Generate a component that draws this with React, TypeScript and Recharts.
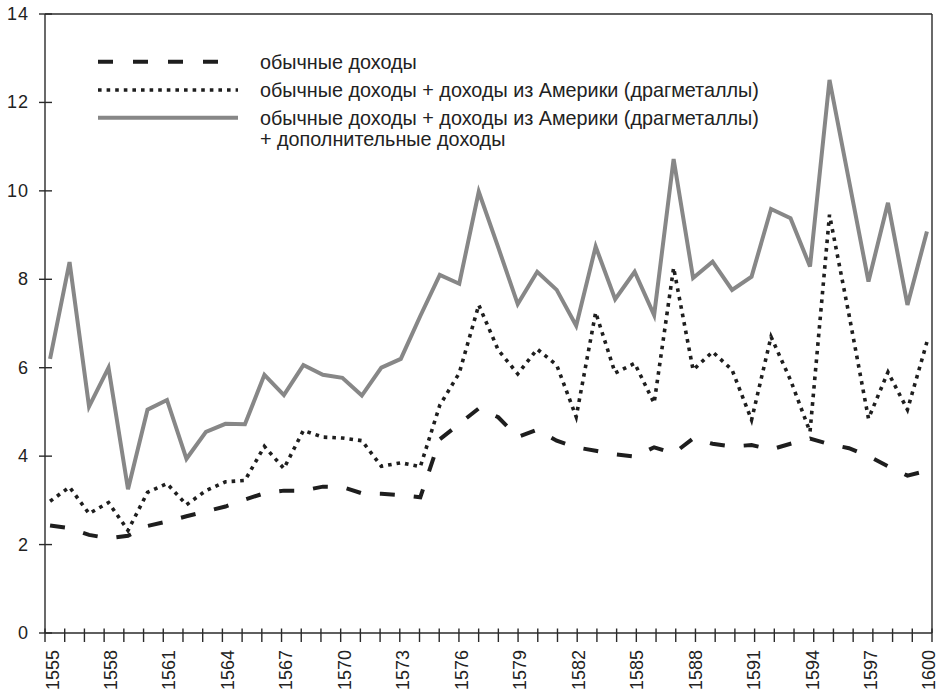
import React from 'react';
import { LineChart, Line, XAxis, YAxis, ReferenceLine, Legend } from 'recharts';

const YEARS = [
  1555, 1556, 1557, 1558, 1559, 1560, 1561, 1562, 1563, 1564,
  1565, 1566, 1567, 1568, 1569, 1570, 1571, 1572, 1573, 1574,
  1575, 1576, 1577, 1578, 1579, 1580, 1581, 1582, 1583, 1584,
  1585, 1586, 1587, 1588, 1589, 1590, 1591, 1592, 1593, 1594,
  1595, 1596, 1597, 1598, 1599, 1600,
];

// обычные доходы
const ORDINARY = [
  2.43, 2.37, 2.22, 2.14, 2.2, 2.42, 2.52, 2.64, 2.75, 2.86,
  3.02, 3.16, 3.22, 3.22, 3.31, 3.3, 3.16, 3.15, 3.12, 3.07,
  4.38, 4.73, 5.08, 4.88, 4.43, 4.6, 4.35, 4.2, 4.12, 4.04,
  3.99, 4.2, 4.06, 4.4, 4.28, 4.22, 4.25, 4.15, 4.28, 4.4,
  4.27, 4.18, 4.0, 3.77, 3.56, 3.67,
];

// обычные доходы + доходы из Америки (драгметаллы)
const WITH_AMERICA = [
  2.98, 3.3, 2.7, 2.95, 2.32, 3.18, 3.38, 2.9, 3.22, 3.42,
  3.45, 4.22, 3.72, 4.58, 4.43, 4.41, 4.35, 3.77, 3.85, 3.76,
  5.15, 5.88, 7.42, 6.4, 5.86, 6.42, 6.06, 4.89, 7.25, 5.88,
  6.1, 5.2, 8.26, 5.95, 6.36, 5.95, 4.82, 6.7, 5.72, 4.55,
  9.46, 7.2, 4.85, 5.9, 5.05, 6.58,
];

// + дополнительные доходы
const WITH_EXTRA = [
  6.2, 8.39, 5.12, 6.0, 3.25, 5.05, 5.27, 3.94, 4.55, 4.73,
  4.72, 5.84, 5.38, 6.06, 5.84, 5.77, 5.37, 6.0, 6.2, 7.17,
  8.1, 7.9, 9.98, 8.72, 7.44, 8.17, 7.76, 6.95, 8.74, 7.55,
  8.17, 7.19, 10.72, 8.03, 8.4, 7.76, 8.06, 9.59, 9.38, 8.29,
  12.51, 10.23, 7.95, 9.73, 7.42, 9.08,
];

const LABEL_YEARS = [1555, 1558, 1561, 1564, 1567, 1570, 1573, 1576, 1579, 1582, 1585, 1588, 1591, 1594, 1597, 1600];
const Y_TICKS = [0, 2, 4, 6, 8, 10, 12, 14];

const LEGEND_1 = 'обычные доходы';
const LEGEND_2 = 'обычные доходы + доходы из Америки (драгметаллы)';
const LEGEND_3A = 'обычные доходы + доходы из Америки (драгметаллы)';
const LEGEND_3B = '+ дополнительные доходы';

const X_MIN = 1554.74;
const X_MAX = 1600.26;
const MARKS = Array.from({ length: 46 }, (_, k) => X_MIN + (k * (X_MAX - X_MIN)) / 45);

const data = YEARS.map((year, i) => ({
  year,
  ordinary: ORDINARY[i],
  america: WITH_AMERICA[i],
  extra: WITH_EXTRA[i],
}));

const FONT = '"Liberation Sans", Arial, Helvetica, sans-serif';
const INK = '#1e1e1e';
const AXIS = '#2a2a2a';
const GRAY = '#878787';

const YTick = (props: any) => {
  const { x, y, payload } = props;
  return (
    <g>
      <line x1={x - 6} x2={x + 7} y1={y} y2={y} stroke={AXIS} strokeWidth={1.4} />
      <text x={x - 16} y={y} textAnchor="end" dominantBaseline="central" fontSize={18} fontFamily={FONT} fill="#222" letterSpacing={1}>
        {payload.value}
      </text>
    </g>
  );
};

const MarkTick = (props: any) => {
  const { x, y } = props;
  return <line x1={x} x2={x} y1={y - 4.5} y2={y + 9} stroke={AXIS} strokeWidth={1.4} />;
};

const LabelTick = (props: any) => {
  const { x, y, payload } = props;
  return (
    <text
      transform={`translate(${x + 2.5},${y + 16}) rotate(-90)`}
      textAnchor="end"
      dominantBaseline="central"
      fontSize={18}
      fontFamily={FONT}
      fill="#222"
    >
      {payload.value}
    </text>
  );
};

const LegendContent = () => (
  <svg width={700} height={110} style={{ display: 'block', overflow: 'visible' }}>
    <line x1={2} x2={142} y1={16.7} y2={16.7} stroke={INK} strokeWidth={4} strokeDasharray="15 20" />
    <line x1={2} x2={142} y1={45} y2={45} stroke={INK} strokeWidth={3.6} strokeDasharray="3.6 5" />
    <line x1={2} x2={142} y1={72.7} y2={72.7} stroke={GRAY} strokeWidth={4} />
    <g fontSize={19.8} fontFamily={FONT} fill="#222">
      <text x={164} y={16.7} dominantBaseline="central">{LEGEND_1}</text>
      <text x={164} y={45} dominantBaseline="central">{LEGEND_2}</text>
      <text x={164} y={72.7} dominantBaseline="central">{LEGEND_3A}</text>
      <text x={164} y={94} dominantBaseline="central">{LEGEND_3B}</text>
    </g>
  </svg>
);

export default function App() {
  return (
    <div style={{ position: 'absolute', left: 0, top: 0, background: '#fff' }}>
      <LineChart width={941} height={696} data={data} margin={{ top: 14, right: 9, bottom: 0, left: 0 }}>
        <XAxis
          xAxisId="b_labels"
          type="number"
          dataKey="year"
          domain={[X_MIN, X_MAX]}
          ticks={LABEL_YEARS}
          interval={0}
          height={62}
          tickSize={0}
          tickMargin={0}
          tick={<LabelTick />}
          axisLine={false}
          tickLine={false}
        />
        <XAxis
          xAxisId="a_marks"
          type="number"
          dataKey="year"
          domain={[X_MIN, X_MAX]}
          ticks={MARKS}
          interval={0}
          height={1}
          tickSize={0}
          tickMargin={0}
          tick={<MarkTick />}
          axisLine={{ stroke: AXIS, strokeWidth: 1.4 }}
          tickLine={false}
        />
        <YAxis
          domain={[0, 14]}
          ticks={Y_TICKS}
          interval={0}
          width={45}
          tickSize={0}
          tickMargin={0}
          tick={<YTick />}
          axisLine={{ stroke: AXIS, strokeWidth: 1.4 }}
          tickLine={false}
        />
        <ReferenceLine xAxisId="b_labels" y={14} stroke={AXIS} strokeWidth={1.4} />
        <ReferenceLine xAxisId="b_labels" x={X_MAX} stroke={AXIS} strokeWidth={1.4} />
        <Legend
          layout="horizontal"
          verticalAlign="middle"
          align="center"
          wrapperStyle={{ top: 45, left: 96, width: 700, height: 110 }}
          content={<LegendContent />}
        />
        <Line xAxisId="b_labels" type="linear" dataKey="extra" stroke={GRAY} strokeWidth={4} dot={false} isAnimationActive={false} />
        <Line xAxisId="b_labels" type="linear" dataKey="america" stroke={INK} strokeWidth={3.6} strokeDasharray="3.6 5" dot={false} isAnimationActive={false} />
        <Line xAxisId="b_labels" type="linear" dataKey="ordinary" stroke={INK} strokeWidth={4} strokeDasharray="15 19" dot={false} isAnimationActive={false} />
      </LineChart>
    </div>
  );
}
